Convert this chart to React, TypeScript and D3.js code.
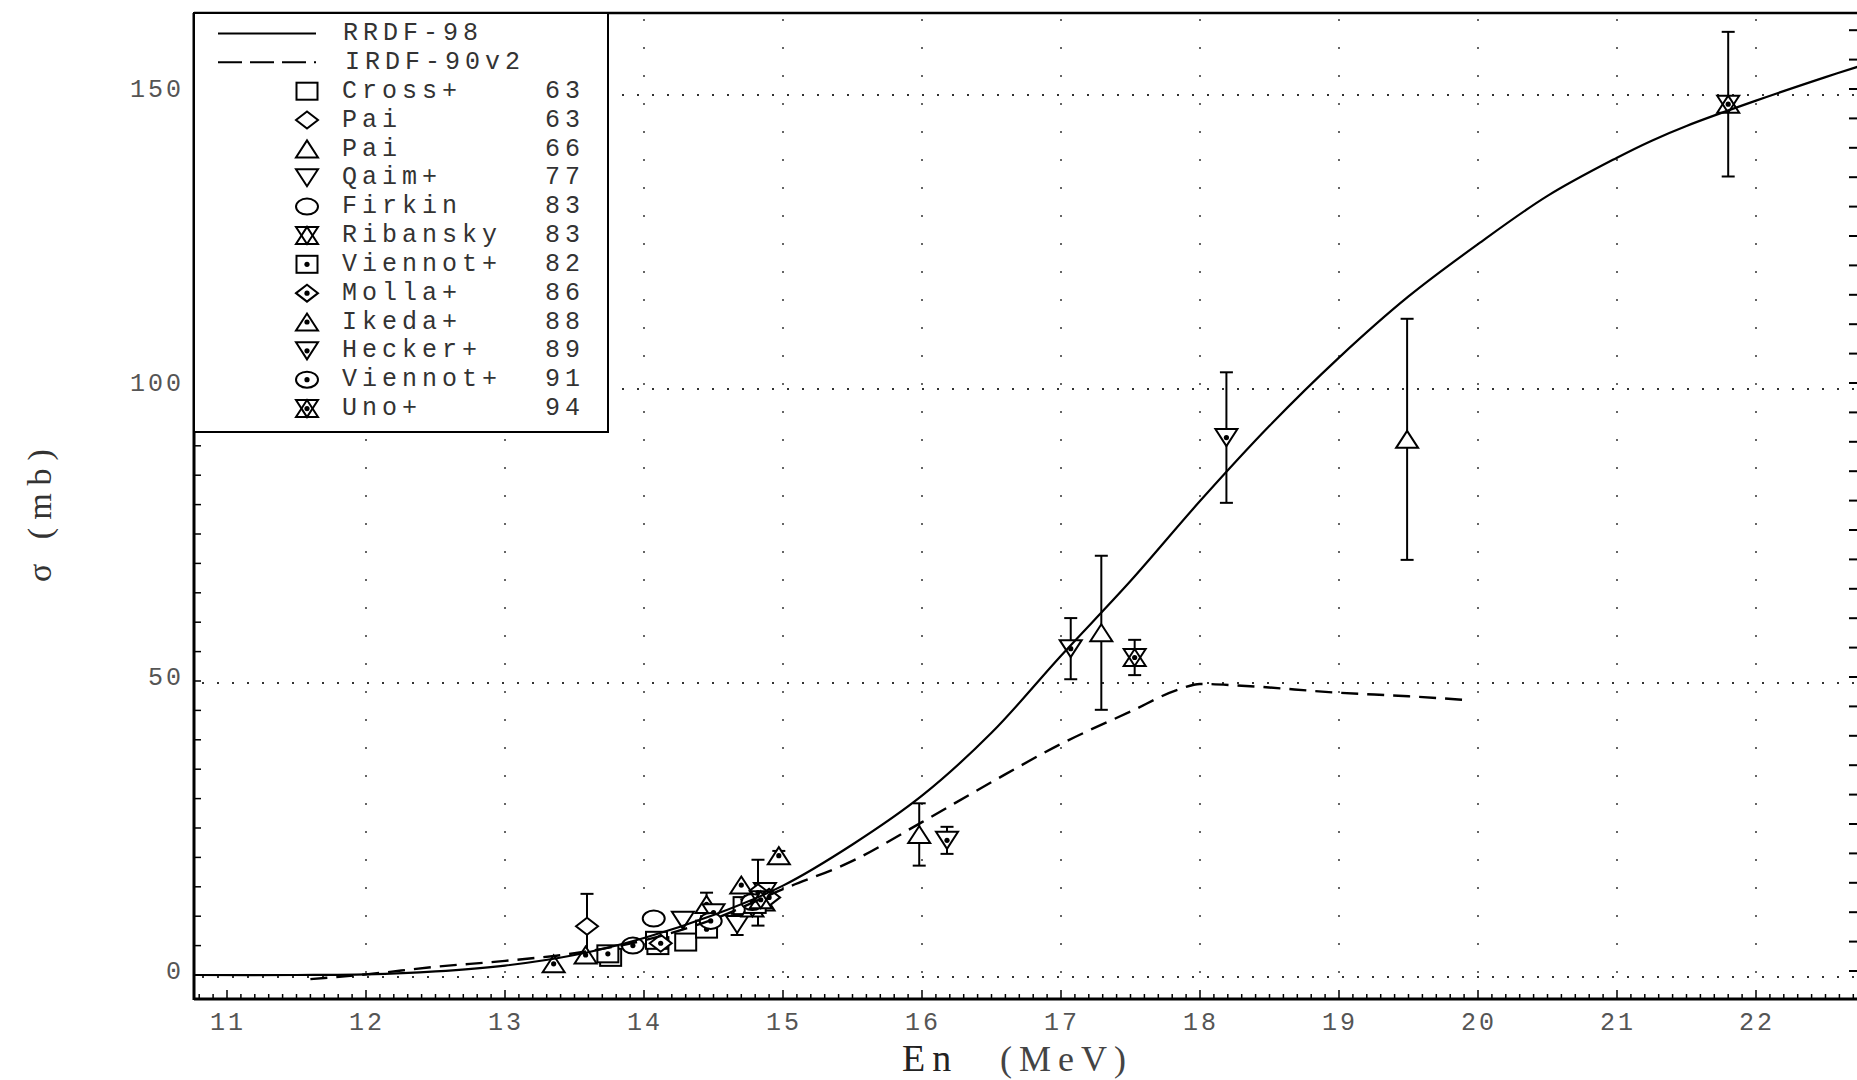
import React from 'react';
import * as d3 from 'd3';

const W = 1857;
const H = 1080;

// ---- Evaluated excitation functions ----
const rrdf98Energy = [10.76, 11.5, 12.0, 12.5, 13.0, 13.5, 14.0, 14.5, 15.0, 15.5, 16.0, 16.5, 17.0, 17.5, 18.0, 18.5, 19.0, 19.5, 20.0, 20.5, 21.0, 21.25, 21.5, 22.0, 22.5, 22.75];
const rrdf98Sigma = [0, 0, 0.1, 0.6, 1.6, 3.4, 6.3, 10.2, 15.2, 22.2, 30.5, 41.2, 54.3, 67.0, 80.6, 93.4, 105.0, 115.4, 124.3, 132.5, 139.0, 141.9, 144.4, 148.7, 152.7, 154.6];

const irdf90Energy = [11.6, 12.0, 12.5, 13.0, 13.5, 14.0, 14.5, 15.0, 15.5, 16.0, 16.5, 17.0, 17.5, 17.85, 18.0, 18.3, 19.0, 19.5, 19.9];
const irdf90Sigma = [-0.7, 0.1, 1.4, 2.4, 3.7, 5.9, 9.5, 14.6, 19.4, 26.0, 32.8, 39.3, 44.8, 48.6, 49.5, 49.2, 48.0, 47.4, 46.8];

// ---- Axis ticks ----
const xTickValues = [11, 12, 13, 14, 15, 16, 17, 18, 19, 20, 21, 22];
const yTickValues = [0, 50, 100, 150];

// ---- Experimental data: [E (MeV), sigma (mb), error (mb)] ----
const cross63 = [[13.76, 3.0, 0], [14.1, 5.0, 0], [14.3, 5.6, 0], [14.72, 11.8, 0]];
const pai63 = [[13.59, 8.3, 5.5]];
const pai66 = [[15.98, 23.9, 5.3], [17.29, 58.2, 13.1], [19.49, 91.1, 20.5]];
const qaim77 = [[14.28, 9.3, 0], [14.67, 8.6, 1.8], [14.87, 14.2, 0]];
const firkin83 = [[14.07, 9.6, 0], [14.82, 13.2, 0]];
const ribansky83 = [[14.78, 11.4, 0], [14.86, 12.4, 0]];
const viennot82 = [[13.74, 3.6, 0.8], [14.09, 5.9, 0], [14.45, 7.8, 0.7], [14.8, 12.0, 0]];
const molla86 = [[14.12, 5.4, 0], [14.82, 14.0, 5.6], [14.9, 13.2, 0]];
const ikeda88 = [[13.35, 1.9, 0], [13.58, 3.4, 0], [14.45, 12.0, 2.0], [14.7, 15.3, 0], [14.97, 20.3, 0.8]];
const hecker89 = [[14.5, 10.6, 0.8], [16.18, 22.9, 2.3], [17.07, 55.5, 5.2], [18.19, 91.4, 11.1]];
const viennot91 = [[13.92, 5.0, 0], [14.48, 9.2, 0], [14.78, 12.4, 0]];
const uno94 = [[14.84, 12.8, 0], [17.53, 54.0, 3.0], [21.8, 148.1, 12.3]];

const seriesNames = ['Cross+', 'Pai', 'Pai', 'Qaim+', 'Firkin', 'Ribansky', 'Viennot+', 'Molla+', 'Ikeda+', 'Hecker+', 'Viennot+', 'Uno+'];
const seriesYears = ['63', '63', '66', '77', '83', '83', '82', '86', '88', '89', '91', '94'];
const seriesShapes = ['square', 'diamond', 'triUp', 'triDown', 'circle', 'hexa', 'square', 'diamond', 'triUp', 'triDown', 'circle', 'hexa'];
const seriesDots = [false, false, false, false, false, false, true, true, true, true, true, true];
const seriesPoints = [cross63, pai63, pai66, qaim77, firkin83, ribansky83, viennot82, molla86, ikeda88, hecker89, viennot91, uno94];

// ---- Layout ----
const frameLeft = 194;
const frameRight = 1857;
const frameTop = 13;
const frameBottom = 999;
const legendRight = 608;
const legendBottom = 432;

const x = d3.scaleLinear().domain([11, 22]).range([227, 1756]);
const y = d3.scaleLinear().domain([0, 150]).range([975, 93]);

const MONO = '"Liberation Mono", "DejaVu Sans Mono", monospace';
const SERIF = '"Liberation Serif", "DejaVu Serif", serif';

function Marker({ shape, dot, cx, cy }: { shape: string; dot: boolean; cx: number; cy: number }) {
  const hw = 11;
  const hh = 8.5;
  const common = { fill: 'white', stroke: '#000', strokeWidth: 2 } as any;
  const up = `M${cx - hw},${cy + hh}L${cx + hw},${cy + hh}L${cx},${cy - hh}Z`;
  const down = `M${cx - hw},${cy - hh}L${cx + hw},${cy - hh}L${cx},${cy + hh}Z`;
  let el: any = null;
  if (shape === 'square') el = <rect x={cx - 10.5} y={cy - 8.5} width={21} height={17} {...common} />;
  else if (shape === 'diamond') el = <path d={`M${cx - hw},${cy}L${cx},${cy - hh}L${cx + hw},${cy}L${cx},${cy + hh}Z`} {...common} />;
  else if (shape === 'triUp') el = <path d={up} {...common} />;
  else if (shape === 'triDown') el = <path d={down} {...common} />;
  else if (shape === 'circle') el = <ellipse cx={cx} cy={cy} rx={11} ry={8} {...common} />;
  else if (shape === 'hexa')
    el = (
      <g>
        <path d={up} {...common} />
        <path d={down} {...common} fill="none" />
      </g>
    );
  return (
    <g>
      {el}
      {dot && <circle cx={cx} cy={cy} r={2.6} fill="#000" />}
    </g>
  );
}

export default function App() {
  const solidPath = d3
    .line<number>()
    .x((_, i) => x(rrdf98Energy[i]))
    .y((d) => y(d))
    .curve(d3.curveCatmullRom.alpha(0.5))(rrdf98Sigma) as string;

  const dashedPath = d3
    .line<number>()
    .x((_, i) => x(irdf90Energy[i]))
    .y((d) => y(d))
    .curve(d3.curveMonotoneX)(irdf90Sigma) as string;

  const xMinor = d3.range(108, 228).map((v) => v / 10);
  const yMinor = d3.range(0, 165, 5);

  const legendRowY = (i: number) => 33.5 + i * 28.85;

  return (
    <svg
      width={W}
      height={H}
      viewBox={`0 0 ${W} ${H}`}
      style={{ position: 'absolute', left: 0, top: 0, background: '#fff' }}
    >
      <rect x={0} y={0} width={W} height={H} fill="#fff" />
      <defs>
        <clipPath id="plotClip">
          <rect x={frameLeft} y={frameTop} width={frameRight - frameLeft} height={frameBottom - frameTop} />
        </clipPath>
      </defs>

      {/* dotted grid */}
      <g stroke="#333" strokeWidth={2} strokeDasharray="2,13">
        {yTickValues.map((v) => (
          <line key={'gh' + v} x1={frameLeft + 8} x2={frameRight} y1={y(v) + 2} y2={y(v) + 2} />
        ))}
      </g>
      <g stroke="#666" strokeWidth={2} strokeDasharray="2,26">
        {xTickValues.slice(1).map((v) => (
          <line key={'gv' + v} x1={x(v)} x2={x(v)} y1={frameTop + 6} y2={frameBottom - 8} />
        ))}
      </g>

      {/* frame and ticks */}
      <g stroke="#000">
        <line x1={frameLeft} x2={frameLeft} y1={frameTop} y2={frameBottom + 1} strokeWidth={3} />
        <line x1={frameLeft} x2={frameRight} y1={frameBottom} y2={frameBottom} strokeWidth={3} />
        <line x1={frameLeft} x2={frameRight} y1={frameTop} y2={frameTop} strokeWidth={2.5} />
        {xMinor.map((v) => (
          <line
            key={'xt' + v}
            x1={x(v)}
            x2={x(v)}
            y1={frameBottom}
            y2={frameBottom - (Math.abs(v - Math.round(v)) < 1e-6 ? 9 : 5)}
            strokeWidth={1.5}
          />
        ))}
        {yMinor.map((v) => (
          <line key={'yl' + v} x1={frameLeft} x2={frameLeft + 7} y1={y(v)} y2={y(v)} strokeWidth={1.5} />
        ))}
        {yMinor.map((v) => (
          <line key={'yr' + v} x1={frameRight - 8} x2={frameRight} y1={y(v) - 4} y2={y(v) - 4} strokeWidth={2} />
        ))}
      </g>

      {/* tick labels */}
      <g fontFamily={MONO} fontSize={25} fill="#555" letterSpacing={3}>
        {yTickValues.map((v) => (
          <text key={'yl' + v} x={184} y={y(v) - 3} textAnchor="end" dominantBaseline="middle">
            {v}
          </text>
        ))}
        {xTickValues.map((v) => (
          <text key={'xl' + v} x={x(v) + 1} y={1023} textAnchor="middle" dominantBaseline="middle">
            {v}
          </text>
        ))}
      </g>

      {/* axis titles */}
      <g fontFamily={SERIF} fontSize={38} fill="#222" letterSpacing={7}>
        <text x={902} y={1071}>En</text>
        <text x={1000} y={1071} fontSize={36} fill="#444">(MeV)</text>
      </g>
      <text
        transform="translate(51, 582) rotate(-90)"
        fontFamily={SERIF}
        fontSize={34}
        fill="#333"
        letterSpacing={8}
      >
        σ (mb)
      </text>

      <g clipPath="url(#plotClip)">
        {/* error bars */}
        <g stroke="#000" strokeWidth={2}>
          {seriesPoints.map((pts, si) =>
            pts
              .filter((p) => p[2] > 0)
              .map((p, pi) => (
                <g key={`e${si}-${pi}`}>
                  <line x1={x(p[0])} x2={x(p[0])} y1={y(p[1] + p[2])} y2={y(p[1] - p[2])} />
                  <line x1={x(p[0]) - 6.5} x2={x(p[0]) + 6.5} y1={y(p[1] + p[2])} y2={y(p[1] + p[2])} />
                  <line x1={x(p[0]) - 6.5} x2={x(p[0]) + 6.5} y1={y(p[1] - p[2])} y2={y(p[1] - p[2])} />
                </g>
              ))
          )}
        </g>
        {/* markers */}
        {seriesPoints.map((pts, si) =>
          pts.map((p, pi) => (
            <Marker key={`m${si}-${pi}`} shape={seriesShapes[si]} dot={seriesDots[si]} cx={x(p[0])} cy={y(p[1])} />
          ))
        )}
        {/* curves */}
        <path d={solidPath} fill="none" stroke="#000" strokeWidth={2.2} />
        <path d={dashedPath} fill="none" stroke="#000" strokeWidth={2.4} strokeDasharray="17,9" />
      </g>

      {/* legend */}
      <g>
        <rect
          x={frameLeft}
          y={frameTop}
          width={legendRight - frameLeft}
          height={legendBottom - frameTop}
          fill="#fff"
          stroke="#000"
          strokeWidth={2}
        />
        <line x1={218} x2={316} y1={legendRowY(0)} y2={legendRowY(0)} stroke="#000" strokeWidth={2} />
        <line x1={218} x2={316} y1={legendRowY(1)} y2={legendRowY(1)} stroke="#000" strokeWidth={2} strokeDasharray="24,8" />
        <g fontFamily={MONO} fontSize={25} fill="#333" letterSpacing={5}>
          <text x={343} y={legendRowY(0)} dominantBaseline="middle">RRDF-98</text>
          <text x={345} y={legendRowY(1)} dominantBaseline="middle">IRDF-90v2</text>
          {seriesNames.map((name, i) => (
            <g key={'lg' + i}>
              <text x={342} y={legendRowY(i + 2)} dominantBaseline="middle">
                {name}
              </text>
              <text x={545} y={legendRowY(i + 2)} dominantBaseline="middle">
                {seriesYears[i]}
              </text>
            </g>
          ))}
        </g>
        {seriesNames.map((_, i) => (
          <Marker key={'lm' + i} shape={seriesShapes[i]} dot={seriesDots[i]} cx={307} cy={legendRowY(i + 2)} />
        ))}
      </g>
    </svg>
  );
}
